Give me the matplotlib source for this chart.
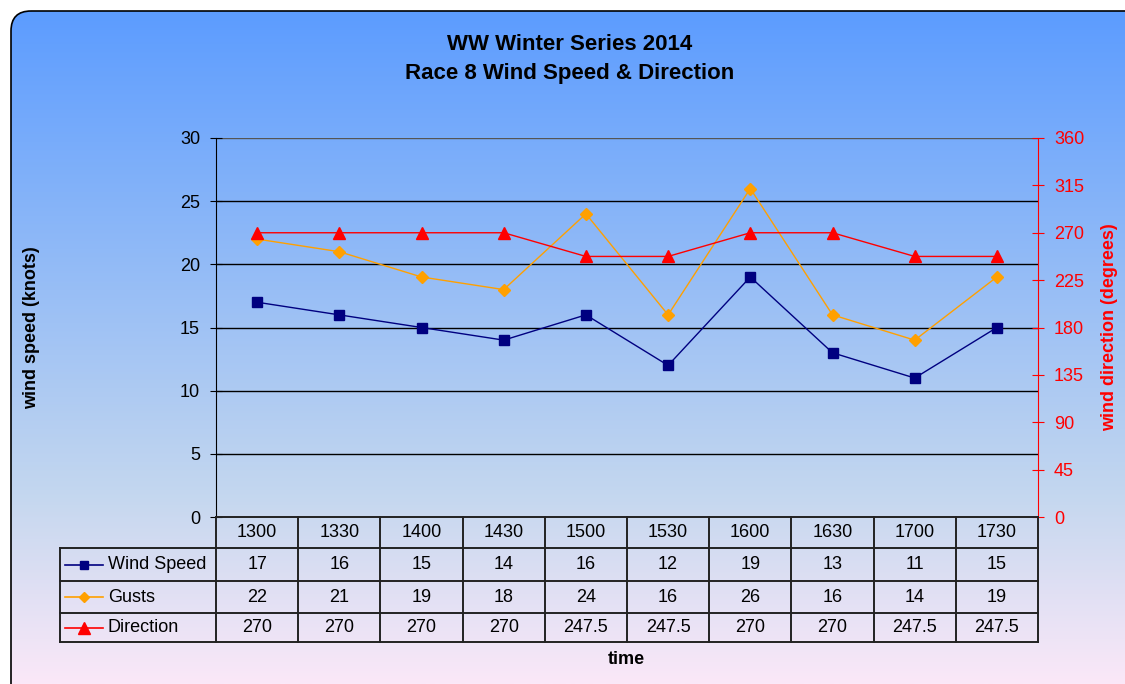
import numpy as np
import matplotlib.pyplot as plt
from matplotlib.patches import FancyBboxPatch
from matplotlib.colors import LinearSegmentedColormap

plt.rcParams['font.family'] = ['Liberation Sans', 'DejaVu Sans']

times = ['1300', '1330', '1400', '1430', '1500', '1530', '1600', '1630', '1700', '1730']
wind_speed = [17, 16, 15, 14, 16, 12, 19, 13, 11, 15]
gusts = [22, 21, 19, 18, 24, 16, 26, 16, 14, 19]
direction = [270, 270, 270, 270, 247.5, 247.5, 270, 270, 247.5, 247.5]

series = [
    ('Wind Speed', wind_speed, '#000080', 's', 7),
    ('Gusts', gusts, '#FFA000', 'D', 6),
    ('Direction', direction, '#FF0000', '^', 9),
]

W, H = 1125, 684
fig = plt.figure(figsize=(W / 100, H / 100), dpi=100)

# background gradient inside rounded frame
bg = fig.add_axes([0, 0, 1, 1])
bg.set_xlim(0, W)
bg.set_ylim(H, 0)
bg.axis('off')
cmap = LinearSegmentedColormap.from_list('bg', [(0, '#5c9cff'), (0.72, '#c4d7ef'), (1, '#fbe8f8')])
grad = np.linspace(0, 1, 256).reshape(-1, 1)
im = bg.imshow(grad, cmap=cmap, extent=[0, W, H, 10], aspect='auto', zorder=0)
frame = FancyBboxPatch((11, 11), 1160, 720, boxstyle='round,pad=0,rounding_size=20',
                       facecolor='none', edgecolor='black', linewidth=1.2, zorder=2)
bg.add_patch(frame)
im.set_clip_path(frame)

fs = 13

# plot area
x0, x1, y0, y1 = 216, 1038, 138, 517
ax = fig.add_axes([x0 / W, 1 - y1 / H, (x1 - x0) / W, (y1 - y0) / H])
ax.patch.set_alpha(0)
x = np.arange(len(times))
ax.set_xlim(-0.5, len(times) - 0.5)
ax.set_ylim(0, 30)
ax.set_yticks(range(0, 31, 5))
for v in range(5, 31, 5):
    ax.axhline(v, color='#555555' if v == 30 else 'black', linewidth=1, zorder=1)
ax.set_xticks([])
ax.tick_params(axis='y', direction='inout', length=9, labelsize=fs, pad=7)
for s in ['top', 'right']:
    ax.spines[s].set_visible(False)
ax.spines['bottom'].set_visible(False)
ax.set_ylabel('wind speed (knots)', fontsize=fs, fontweight='bold')
ax.yaxis.set_label_coords(-0.214, 0.5)

ax2 = ax.twinx()
ax2.set_ylim(0, 360)
ax2.set_yticks(range(0, 361, 45))
ax2.tick_params(axis='y', direction='inout', length=9, labelsize=fs, colors='red', pad=7)
for s in ['top', 'left', 'bottom']:
    ax2.spines[s].set_visible(False)
ax2.spines['right'].set_color('red')
ax2.set_ylabel('wind direction (degrees)', fontsize=fs, fontweight='bold', color='red')
ax2.yaxis.set_label_coords(1.077, 0.5)

ax.plot(x, wind_speed, color=series[0][2], marker='s', markersize=7, linewidth=1, zorder=3)
ax.plot(x, gusts, color=series[1][2], marker='D', markersize=6, linewidth=1, zorder=3)
ax2.plot(x, direction, color=series[2][2], marker='^', markersize=9, linewidth=1, zorder=3)

# data table (y in pixels from top)
t0 = 60
rows = [517, 548, 581, 613, 642]
ta = fig.add_axes([t0 / W, 1 - rows[-1] / H, (x1 - t0) / W, (rows[-1] - rows[0]) / H])
ta.axis('off')
cw = (x1 - x0) / len(times)
left = -0.5 - (x0 - t0) / cw
right = len(times) - 0.5
ta.set_xlim(left, right)
ta.set_ylim(rows[-1], rows[0])
ta.patch.set_alpha(0)
lk = dict(color='#222222', linewidth=1.4, clip_on=False)
ta.plot([-0.5, right], [rows[0], rows[0]], **lk)
for r in rows[1:]:
    ta.plot([left, right], [r, r], **lk)
for c in range(len(times) + 1):
    ta.plot([c - 0.5, c - 0.5], [rows[0], rows[-1]], **lk)
ta.plot([left, left], [rows[1], rows[-1]], **lk)
mid = [(a + b) / 2 for a, b in zip(rows[:-1], rows[1:])]
for i, t in enumerate(times):
    ta.text(i, mid[0], t, ha='center', va='center', fontsize=fs)
for r, (name, vals, col, mk, ms) in enumerate(series, start=1):
    ta.plot([left + 0.06, left + 0.52], [mid[r], mid[r]], color=col, linewidth=1.2)
    ta.plot([left + 0.29], [mid[r]], color=col, marker=mk, markersize=ms - 1)
    ta.text(left + 0.58, mid[r], name, ha='left', va='center', fontsize=fs)
    for i, v in enumerate(vals):
        ta.text(i, mid[r], '{:g}'.format(v), ha='center', va='center', fontsize=fs)

fig.text(626 / W, 1 - 660 / H, 'time', ha='center', va='center', fontsize=fs, fontweight='bold')
fig.text(570 / W, 1 - 45 / H, 'WW Winter Series 2014', ha='center', va='center',
         fontsize=16, fontweight='bold')
fig.text(570 / W, 1 - 74 / H, 'Race 8 Wind Speed & Direction', ha='center', va='center',
         fontsize=16, fontweight='bold')

fig.savefig('out.png', dpi=100)
